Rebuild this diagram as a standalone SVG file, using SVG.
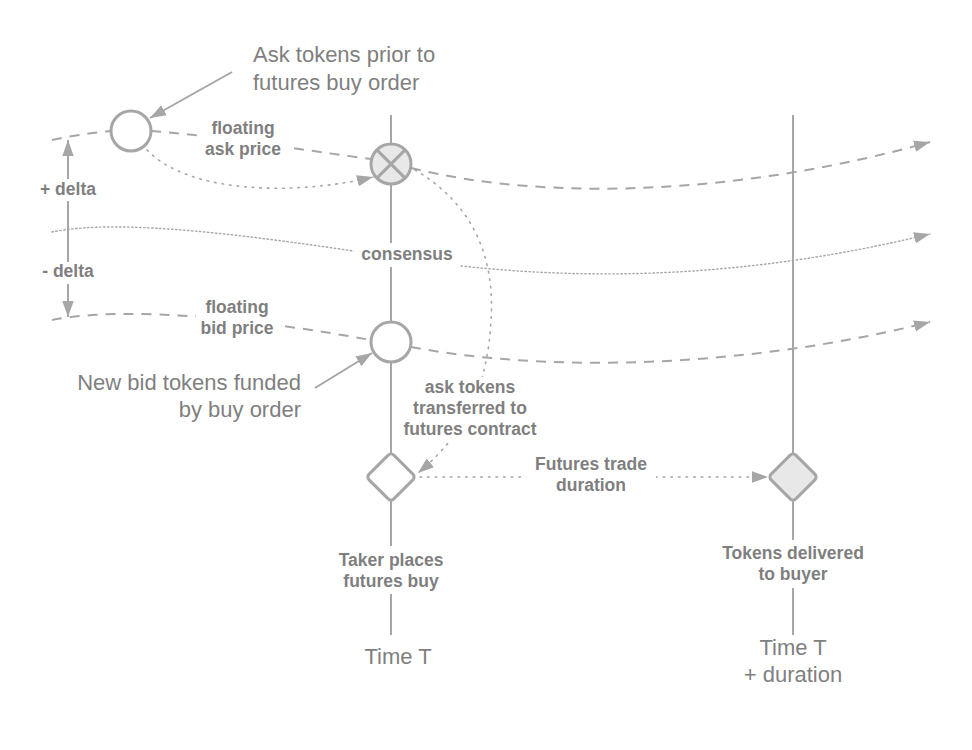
<svg xmlns="http://www.w3.org/2000/svg" width="972" height="750" viewBox="0 0 972 750">
<style>
.ln{fill:none;stroke:#a6a6a6;stroke-width:2}
.dash{fill:none;stroke:#a6a6a6;stroke-width:2;stroke-dasharray:10 8}
.dot{fill:none;stroke:#a6a6a6;stroke-width:1.6;stroke-dasharray:1.6 6;stroke-linecap:round}
.dot2{fill:none;stroke:#a6a6a6;stroke-width:1.4;stroke-dasharray:1.4 2.6;stroke-linecap:round}
.node{fill:#fff;stroke:#a6a6a6;stroke-width:3}
.fill{fill:#e8e8e8}
.bg{fill:#fff}
.lbl{font-family:"Liberation Sans",Arial,sans-serif;font-weight:bold;font-size:17.5px;fill:#7f7f7f;text-anchor:middle}
.big{font-family:"Liberation Sans",Arial,sans-serif;font-size:22px;fill:#7f7f7f}
</style>
<defs>
<marker id="ah" markerUnits="userSpaceOnUse" markerWidth="16" markerHeight="12" refX="14" refY="5" orient="auto-start-reverse" viewBox="0 0 14 10">
<path d="M0,0 L14,5 L0,10 z" fill="#a6a6a6"/>
</marker>
</defs>
<rect width="972" height="750" fill="#fff"/>
<g id="connectors">
<line class="ln" x1="391" y1="115" x2="391" y2="635"/>
<line class="ln" x1="793" y1="115" x2="793" y2="635"/>
<path class="dash" d="M52,140 Q80,134 111,131"/>
<path class="dash" d="M151,131 C230,137 300,150 371,159"/>
<path class="dash" d="M411,168 C560,205 760,190 930,142" marker-end="url(#ah)"/>
<path class="dot2" d="M52,232 C120,218 250,235 400,258 C520,276 700,290 930,234" marker-end="url(#ah)"/>
<path class="dash" d="M52,320 C130,305 260,320 371,340"/>
<path class="dash" d="M411,347 C560,375 760,365 930,322" marker-end="url(#ah)"/>
<path class="dot" d="M147,150 C190,195 300,195 373,177" marker-end="url(#ah)"/>
<path class="dot" d="M415,170 C475,205 495,260 491,320 C488,380 470,430 418,473" marker-end="url(#ah)"/>
<path class="dot" d="M420,477 L768,477" marker-end="url(#ah)"/>
<path class="ln" d="M232,72 L150,118" marker-end="url(#ah)"/>
<path class="ln" d="M315,388 L372,353" marker-end="url(#ah)"/>
<path class="ln" d="M68,140 L68,317" marker-start="url(#ah)" marker-end="url(#ah)"/>
</g>
<g id="labels">
<rect class="bg" x="198" y="117" width="92" height="43"/>
<text class="lbl" x="243" y="134">floating</text>
<text class="lbl" x="243" y="155">ask price</text>
<rect class="bg" x="196" y="297" width="82" height="42"/>
<text class="lbl" x="237" y="313">floating</text>
<text class="lbl" x="237" y="334">bid price</text>
<rect class="bg" x="34" y="179" width="68" height="22"/>
<text class="lbl" x="68" y="195">+ delta</text>
<rect class="bg" x="34" y="262" width="68" height="22"/>
<text class="lbl" x="68" y="277">- delta</text>
<rect class="bg" x="354" y="243" width="106" height="24"/>
<text class="lbl" x="407" y="260">consensus</text>
<rect class="bg" x="398" y="377" width="146" height="66"/>
<text class="lbl" x="470" y="393">ask tokens</text>
<text class="lbl" x="470" y="414">transferred to</text>
<text class="lbl" x="470" y="435">futures contract</text>
<rect class="bg" x="526" y="455" width="130" height="42"/>
<text class="lbl" x="591" y="470">Futures trade</text>
<text class="lbl" x="591" y="491">duration</text>
<rect class="bg" x="332" y="546" width="118" height="48"/>
<text class="lbl" x="391" y="566">Taker places</text>
<text class="lbl" x="391" y="587">futures buy</text>
<rect class="bg" x="714" y="540" width="158" height="48"/>
<text class="lbl" x="793" y="559">Tokens delivered</text>
<text class="lbl" x="793" y="580">to buyer</text>
<text class="big" x="253" y="62">Ask tokens prior to</text>
<text class="big" x="253" y="90">futures buy order</text>
<text class="big" x="301" y="390" text-anchor="end">New bid tokens funded</text>
<text class="big" x="301" y="417" text-anchor="end">by buy order</text>
<text class="big" x="398" y="664" text-anchor="middle">Time T</text>
<text class="big" x="793" y="655" text-anchor="middle">Time T</text>
<text class="big" x="793" y="682" text-anchor="middle">+ duration</text>
</g>
<g id="ask-prior">
<circle class="node" cx="131" cy="131" r="20"/>
</g>
<g id="ask-exercised">
<circle class="node fill" cx="391" cy="164" r="20"/>
<path class="node" d="M376.9,149.9 L405.1,178.1 M405.1,149.9 L376.9,178.1" fill="none"/>
</g>
<g id="bid-new">
<circle class="node" cx="391" cy="342" r="20"/>
</g>
<g id="taker-buy">
<rect class="node" x="373.5" y="459.5" width="35" height="35" rx="4" transform="rotate(45 391 477)"/>
</g>
<g id="delivered">
<rect class="node fill" x="775.5" y="459.5" width="35" height="35" rx="4" transform="rotate(45 793 477)"/>
</g>
</svg>
